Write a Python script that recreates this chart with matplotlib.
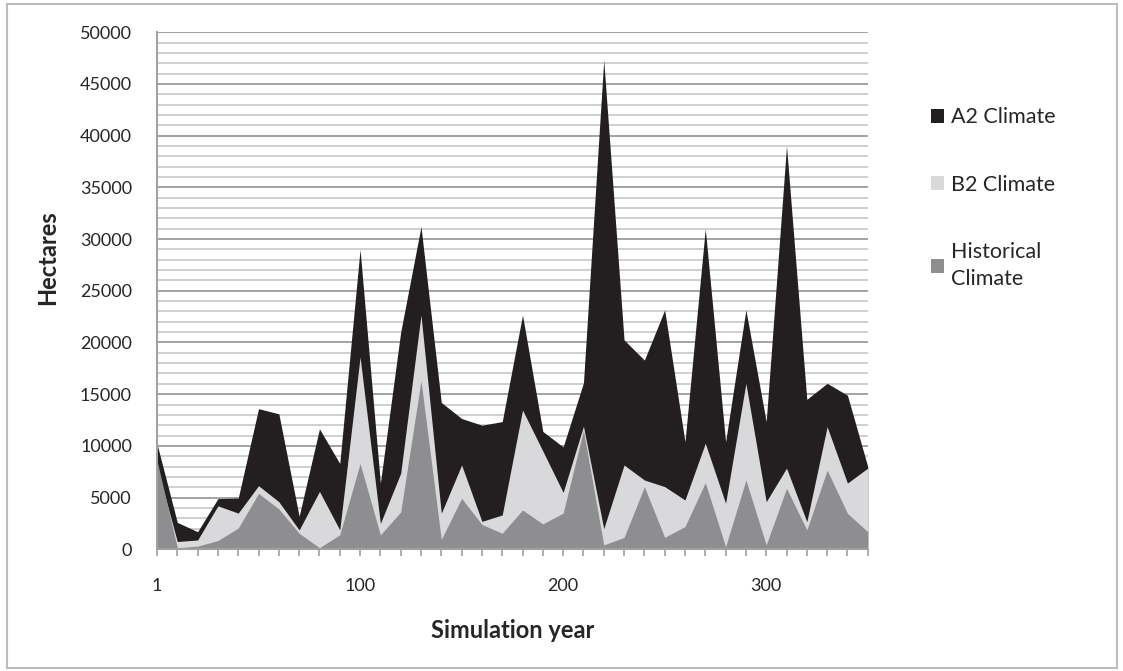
import matplotlib
matplotlib.use("Agg")
import matplotlib.pyplot as plt
from matplotlib.patches import Rectangle, Patch
from matplotlib.ticker import MultipleLocator

# ── Data ──────────────────────────────────────────────────────────────────────
YEARS = [1, 10, 20, 30, 40, 50, 60, 70, 80, 90, 100, 110, 120, 130, 140, 150,
         160, 170, 180, 190, 200, 210, 220, 230, 240, 250, 260, 270, 280, 290,
         300, 310, 320, 330, 340, 350]

A2 = [10200, 2600, 1700, 4900, 4950, 13600, 13100, 3200, 11650, 8300,
      29000, 6400, 21000, 31200, 14200, 12650, 12000, 12350, 22650, 11400,
      9900, 16100, 47300, 20250, 18300, 23150, 10400, 31000, 10400, 23150,
      12350, 39000, 14500, 16050, 14900, 8000]

B2 = [8000, 750, 900, 4200, 3500, 6150, 4600, 1870, 5600, 1870,
      18600, 2500, 7350, 22650, 3480, 8150, 2700, 3320, 13470, 9500,
      5500, 11900, 2000, 8150, 6700, 6060, 4770, 10250, 4450, 16050,
      4600, 7850, 2670, 11850, 6400, 7850]

HIST = [8600, 150, 300, 850, 2050, 5400, 3900, 1550, 150, 1400,
        8300, 1400, 3600, 16300, 950, 4930, 2400, 1550, 3800, 2450,
        3500, 11500, 420, 1150, 6050, 1150, 2200, 6450, 250, 6700,
        420, 5900, 1870, 7650, 3480, 1700]

SERIES = [("A2 Climate", A2, "#231f20"),
          ("B2 Climate", B2, "#d9d9db"),
          ("Historical\nClimate", HIST, "#8e8e90")]

LABELED_YEARS = [1, 100, 200, 300]

plt.rcParams["font.family"] = ["Lato", "DejaVu Sans"]

fig = plt.figure(figsize=(11.23, 6.71), dpi=100)
ax = fig.add_axes([0.1398, 0.1814, 0.7727 - 0.1398, 0.9519 - 0.1814])

x = list(range(len(YEARS)))
for name, vals, col in SERIES:
    ax.fill_between(x, vals, 0, color=col, linewidth=0, zorder=3)

ax.set_xlim(0, len(YEARS) - 1)
ax.set_ylim(0, 50000)

# gridlines: light every 1000, darker every 5000
ax.yaxis.set_major_locator(MultipleLocator(5000))
ax.yaxis.set_minor_locator(MultipleLocator(1000))
ax.grid(True, which="minor", axis="y", color="#cfcfd1", linewidth=1.4, zorder=1)
ax.grid(True, which="major", axis="y", color="#a3a3a5", linewidth=1.4, zorder=1)
ax.tick_params(axis="y", which="both", length=0, labelsize=13, pad=18,
               labelcolor="#262626")

ax.set_xticks(x)
ax.set_xticklabels([str(y) if y in LABELED_YEARS else "" for y in YEARS])
ax.tick_params(axis="x", length=5, color="#a0a0a0", width=1.2,
               labelsize=13, pad=16, labelcolor="#262626")

for s in ["top", "right"]:
    ax.spines[s].set_visible(False)
for s in ["left", "bottom"]:
    ax.spines[s].set_color("#a0a0a0")
    ax.spines[s].set_linewidth(1.4)
    ax.spines[s].set_zorder(4)

ax.set_xlabel("Simulation year", fontsize=17, fontweight="bold",
              color="#262626", labelpad=18)
fig.text(48 / 1123, 1 - 258 / 671, "Hectares", rotation=90, fontsize=17,
         fontweight="bold", color="#262626", ha="center", va="center")

handles = [Patch(facecolor=col, edgecolor="none", label=name)
           for name, vals, col in SERIES]
leg = fig.legend(handles=handles, loc="upper left",
                 bbox_to_anchor=(912 / 1123, 1 - 88 / 671), frameon=False,
                 fontsize=15.5, handlelength=0.6, handleheight=0.6,
                 handletextpad=0.33, labelspacing=2.2, labelcolor="#262626")
for t in leg.get_texts():
    t.set_linespacing(1.45)

# outer chart border
fig.patches.append(Rectangle((7 / 1123, 3 / 671), 1110 / 1123, 664 / 671,
                             transform=fig.transFigure, fill=False,
                             edgecolor="#bdbdbd", linewidth=1.5))

fig.savefig("out.png", dpi=100)
